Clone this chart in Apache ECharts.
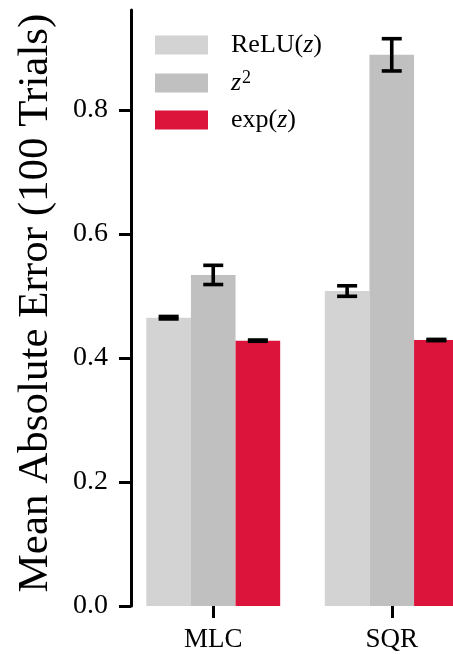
<!DOCTYPE html>
<html>
<head>
<meta charset="utf-8">
<script src="https://cdn.jsdelivr.net/npm/echarts@6/dist/echarts.min.js"></script>
<style>html,body{margin:0;padding:0;background:#fff}#c{width:453px;height:654px}</style>
</head>
<body>
<div id="c"></div>
<script>
const categories = ['MLC', 'SQR'];
const seriesNames = ['ReLU', 'z2', 'exp'];
const reluMean = [0.465, 0.508];
const reluErr  = [0.002, 0.0085];
const sqMean   = [0.534, 0.889];
const sqErr    = [0.0155, 0.026];
const expMean  = [0.428, 0.429];
const expErr   = [0.001, 0.001];
const yTicks   = [0, 0.2, 0.4, 0.6, 0.8];

const colors = ['#d3d3d3', '#c0c0c0', '#dc143c'];
const FONT = 'Liberation Serif';

function errSeries(means, errs, slot) {
  return {
    type: 'custom',
    z: 10,
    silent: true,
    data: categories.map((c, i) => [i, means[i], errs[i]]),
    renderItem: function (params, api) {
      const band = api.size([1, 0])[0];
      const c = api.coord([api.value(0), api.value(1)]);
      const x = c[0] + slot * band * 0.25;
      const hi = api.coord([api.value(0), api.value(1) + api.value(2)])[1];
      const lo = api.coord([api.value(0), api.value(1) - api.value(2)])[1];
      const hw = 10;
      const st = { stroke: '#000', lineWidth: 3.6 };
      return {
        type: 'group',
        children: [
          { type: 'line', shape: { x1: x, y1: hi, x2: x, y2: lo }, style: st },
          { type: 'line', shape: { x1: x - hw, y1: hi, x2: x + hw, y2: hi }, style: st },
          { type: 'line', shape: { x1: x - hw, y1: lo, x2: x + hw, y2: lo }, style: st }
        ]
      };
    }
  };
}

const chart = echarts.init(document.getElementById('c'), null, { renderer: 'canvas' });
chart.setOption({
  animation: false,
  backgroundColor: '#fff',
  grid: { left: 124, width: 357, top: 10, bottom: 48, containLabel: false, outerBoundsMode: 'none' },
  legend: {
    left: 150, top: 27, orient: 'vertical',
    itemWidth: 53, itemHeight: 19, itemGap: 11,
    icon: 'rect',
    data: seriesNames,
    formatter: function (name) {
      if (name === 'ReLU') return 'ReLU({i|z})';
      if (name === 'z2') return '{i|z}{s|2}';
      return 'exp({i|z})';
    },
    textStyle: {
      fontFamily: FONT, fontSize: 26, color: '#000', padding: [0, 0, 0, 18],
      rich: {
        i: { fontFamily: FONT, fontStyle: 'italic', fontSize: 26, color: '#000' },
        s: { fontFamily: FONT, fontSize: 18, color: '#000', verticalAlign: 'top', padding: [0, 0, 10, 1] }
      }
    }
  },
  xAxis: {
    type: 'category',
    data: categories,
    axisLine: { show: false },
    axisTick: { show: true, alignWithLabel: true, length: 12, lineStyle: { color: '#000', width: 3 } },
    axisLabel: { fontFamily: FONT, fontSize: 27, color: '#000', margin: 20 },
    splitLine: { show: false }
  },
  yAxis: {
    type: 'value',
    min: 0, max: 0.9613,
    offset: -7,
    axisLine: { show: true, lineStyle: { color: '#000', width: 3 } },
    axisTick: { show: true, length: 12, lineStyle: { color: '#000', width: 3 }, customValues: yTicks },
    axisLabel: { fontFamily: FONT, fontSize: 28, color: '#000', margin: 23, customValues: yTicks,
      formatter: v => v.toFixed(1) },
    splitLine: { show: false },
    name: 'Mean Absolute Error (100 Trials)',
    nameLocation: 'middle',
    nameGap: 74,
    nameTextStyle: { fontFamily: FONT, fontSize: 43, color: '#000', padding: [0, 0, 0, 10] }
  },
  series: [
    { name: 'ReLU', type: 'bar', data: reluMean, itemStyle: { color: colors[0] }, barGap: '0%', barCategoryGap: '25%' },
    { name: 'z2', type: 'bar', data: sqMean, itemStyle: { color: colors[1] }, barGap: '0%', barCategoryGap: '25%' },
    { name: 'exp', type: 'bar', data: expMean, itemStyle: { color: colors[2] }, barGap: '0%', barCategoryGap: '25%' },
    errSeries(reluMean, reluErr, -1),
    errSeries(sqMean, sqErr, 0),
    errSeries(expMean, expErr, 1)
  ]
});
</script>
</body>
</html>
